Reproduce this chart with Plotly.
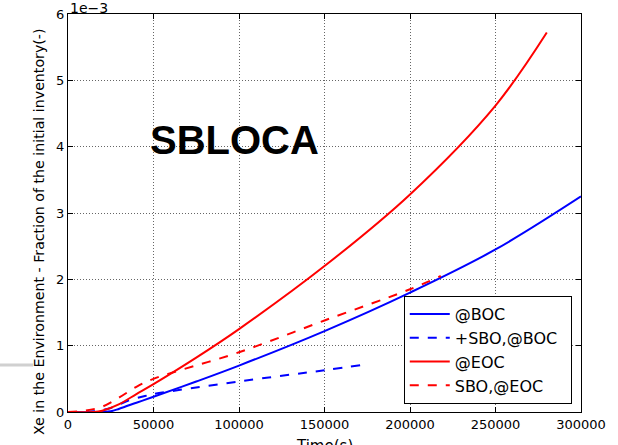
import plotly.graph_objects as go

# Time axis samples (s) and released Xe fraction, in units of 1e-3
t_boc = [0, 20000, 25000, 30000, 40000, 50000, 75000, 100000, 150000, 200000, 250000, 300000]
xe_boc = [0, 0.0, 0.01, 0.05, 0.14, 0.23, 0.46, 0.70, 1.22, 1.80, 2.45, 3.25]

t_sbo_boc = [0, 15000, 25000, 35000, 45000, 50000, 100000, 150000, 172000]
xe_sbo_boc = [0, 0.01, 0.06, 0.17, 0.24, 0.27, 0.46, 0.63, 0.71]

t_eoc = [0, 15000, 20000, 30000, 40000, 50000, 75000, 100000, 150000, 200000, 250000, 280000]
xe_eoc = [0, 0.0, 0.02, 0.12, 0.27, 0.42, 0.82, 1.25, 2.20, 3.28, 4.62, 5.72]

t_sbo_eoc = [0, 10000, 20000, 30000, 40000, 50000, 100000, 150000, 200000, 218000]
xe_sbo_eoc = [0, 0.02, 0.08, 0.22, 0.38, 0.50, 0.90, 1.38, 1.85, 2.05]

x_ticks = [0, 50000, 100000, 150000, 200000, 250000, 300000]
y_ticks = [0, 1, 2, 3, 4, 5, 6]

FONT = "DejaVu Sans"

fig = go.Figure()
series = [
    (t_boc, xe_boc, "@BOC", "blue", "solid"),
    (t_sbo_boc, xe_sbo_boc, "+SBO,@BOC", "blue", "dash"),
    (t_eoc, xe_eoc, "@EOC", "red", "solid"),
    (t_sbo_eoc, xe_sbo_eoc, "SBO,@EOC", "red", "dash"),
]
for x, y, name, color, dash in series:
    fig.add_trace(go.Scatter(
        x=x, y=y, name=name + "\u2002", mode="lines", line_shape="spline",
        line=dict(color=color, width=2, dash=dash),
    ))

axis_common = dict(
    showline=True, linecolor="black", linewidth=1, mirror="ticks",
    ticks="inside", ticklen=5, tickcolor="black",
    showgrid=True, gridcolor="#666666", gridwidth=1, griddash="1px,2px",
    zeroline=False, automargin=False,
    tickfont=dict(family=FONT, size=13, color="black"),
)

fig.update_layout(
    width=618, height=445,
    margin=dict(l=68, r=37, t=14, b=33),
    paper_bgcolor="white", plot_bgcolor="white",
    font=dict(family=FONT, color="black"),
    xaxis=dict(range=[0, 300000], tickvals=x_ticks,
               ticktext=[str(v) for v in x_ticks], **axis_common),
    yaxis=dict(range=[0, 6], tickvals=y_ticks,
               ticktext=[str(v) for v in y_ticks], **axis_common),
    legend=dict(
        x=0.982, y=0.02, xanchor="right", yanchor="bottom",
        bgcolor="white", bordercolor="black", borderwidth=1,
        font=dict(family=FONT, size=16), tracegroupgap=0, itemwidth=40,
    ),
    showlegend=True,
)

# axis titles
fig.add_annotation(
    x=0.5, y=-0.058, xref="paper", yref="paper", text="Time(s)",
    xanchor="center", yanchor="top", showarrow=False,
    font=dict(family=FONT, size=15, color="black"),
)
fig.add_annotation(
    x=-0.0565, y=0.452, xref="paper", yref="paper",
    text="Xe in the Environment - Fraction of the initial inventory(-)",
    textangle=-90, xanchor="center", yanchor="middle", showarrow=False,
    font=dict(family=FONT, size=14.2, color="black"),
)

fig.add_annotation(
    x=97500, y=4.10, xref="x", yref="y", text="<b>SBLOCA</b>",
    showarrow=False, font=dict(family="Liberation Sans", size=40, color="black"),
)
fig.add_annotation(
    x=0, y=1, xref="paper", yref="paper", text="1e\u22123",
    xanchor="left", yanchor="bottom", showarrow=False, yshift=-4,
    font=dict(family=FONT, size=14, color="black"),
)
# thin grey rule at the far left
fig.add_shape(type="line", xref="paper", yref="y", x0=-0.133, x1=-0.068, y0=0.71, y1=0.71,
              line=dict(color="#d0d0d0", width=3))

fig.write_html("out.html")
